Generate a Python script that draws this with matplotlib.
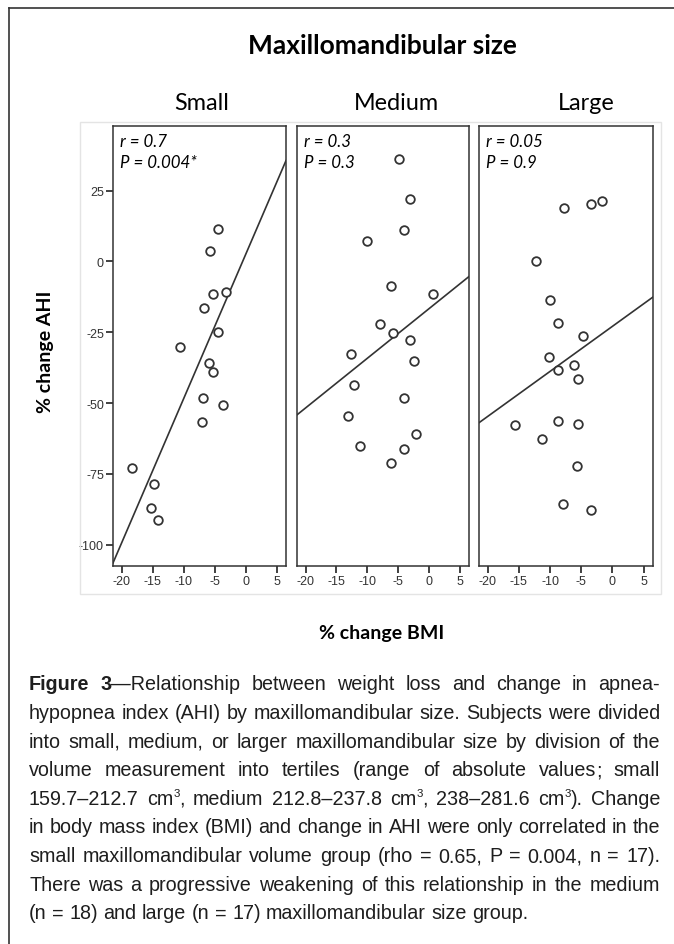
import re
import matplotlib
matplotlib.use("Agg")
import matplotlib.pyplot as plt
from matplotlib.patches import Rectangle
from matplotlib.lines import Line2D

plt.rcParams['axes.unicode_minus'] = False

W, H, DPI = 674, 945, 100

# ---------------- data ----------------
groups = ["Small", "Medium", "Large"]

small_bmi = [-4.4, -5.8, -5.3, -3.1, -6.7, -4.4, -10.6, -5.9, -5.2, -6.9, -3.6, -7.1,
             -18.4, -14.8, -15.3, -14.1]
small_ahi = [11.4, 3.8, -11.5, -10.9, -16.5, -24.8, -30.1, -36.0, -39.1, -48.2, -50.5, -56.6,
             -73.0, -78.7, -86.9, -91.1]

medium_bmi = [-4.9, -3.0, -4.1, -10.0, -6.2, 0.7, -7.9, -5.8, -3.1, -12.6, -2.5, -12.2,
              -4.1, -13.1, -2.1, -11.1, -4.1, -6.1]
medium_ahi = [36.2, 21.9, 11.2, 7.1, -8.8, -11.5, -22.2, -25.4, -27.6, -32.5, -35.1, -43.5,
              -48.1, -54.6, -60.8, -65.1, -66.3, -71.2]

large_bmi = [-7.7, -3.5, -1.7, -12.3, -10.0, -8.7, -4.8, -10.2, -6.1, -8.7, -5.6, -15.7,
             -8.7, -5.6, -11.3, -5.7, -8.0, -3.4]
large_ahi = [18.9, 20.1, 21.4, 0.1, -13.5, -21.8, -26.2, -33.6, -36.6, -38.4, -41.4, -57.7,
             -56.3, -57.3, -62.6, -72.1, -85.5, -87.9]

fit_slope = [5.09, 1.75, 1.59]
fit_intercept = [2.5, -16.7, -22.9]

r_labels = ["r = 0.7", "r = 0.3", "r = 0.05"]
p_labels = ["P = 0.004*", "P = 0.3", "P = 0.9"]

x_ticks = [-20, -15, -10, -5, 0, 5]
y_ticks = [25, 0, -25, -50, -75, -100]

title = "Maxillomandibular size"
x_label = "% change BMI"
y_label = "% change AHI"

# **...** = bold, ^x = superscript character
caption_lines = [
    "**Figure** **3**—Relationship between weight loss and change in apnea-",
    "hypopnea index (AHI) by maxillomandibular size. Subjects were divided",
    "into small, medium, or larger maxillomandibular size by division of the",
    "volume measurement into tertiles (range of absolute values; small",
    "159.7–212.7 cm^3, medium 212.8–237.8 cm^3, 238–281.6 cm^3). Change",
    "in body mass index (BMI) and change in AHI were only correlated in the",
    "small maxillomandibular volume group (rho = 0.65, P = 0.004, n = 17).",
    "There was a progressive weakening of this relationship in the medium",
    "(n = 18) and large (n = 17) maxillomandibular size group.",
]

xs = [small_bmi, medium_bmi, large_bmi]
ys = [small_ahi, medium_ahi, large_ahi]

# ---------------- layout ----------------
fig = plt.figure(figsize=(W / DPI, H / DPI), dpi=DPI)
fig.patch.set_facecolor("white")

def fx(px):
    return px / W

def fy(py):
    return 1 - py / H

panel_x = [(113, 286), (297, 469), (479, 653)]
top_px, bot_px = 127, 567
label_x = [202, 396, 586]

DARK = "#333333"
HEAD_FONT = ["Lato", "DejaVu Sans"]
TICK_FONT = ["Liberation Sans", "DejaVu Sans"]

# faint chart frame
fig.add_artist(Rectangle((fx(80), fy(595)), fx(661) - fx(80), fy(123) - fy(595),
                         transform=fig.transFigure, fill=False, ec="#e4e4e4", lw=1.0))
# outer page frame lines (left + top)
fig.add_artist(Line2D([fx(9), fx(9)], [fy(9), 0], transform=fig.transFigure, color=DARK, lw=1.2))
fig.add_artist(Line2D([fx(9), 1], [fy(9), fy(9)], transform=fig.transFigure, color=DARK, lw=1.2))

for i, (l, r) in enumerate(panel_x):
    ax = fig.add_axes([fx(l), fy(bot_px), fx(r) - fx(l), fy(top_px) - fy(bot_px)])
    ax.set_xlim(-21.4, 6.5)
    ax.set_ylim(-107.5, 47.8)
    ax.plot(xs[i], ys[i], linestyle="none", marker="o", ms=6.2, mfc="white",
            mec=DARK, mew=1.3, zorder=3)
    ax.axline((0, fit_intercept[i]), slope=fit_slope[i], color=DARK, lw=1.2, zorder=2)
    for s in ax.spines.values():
        s.set_color(DARK)
        s.set_linewidth(1.1)
    ax.set_xticks(x_ticks)
    ax.set_xticklabels([str(t) for t in x_ticks], fontfamily=TICK_FONT, fontsize=9, color=DARK)
    ax.tick_params(axis="x", direction="out", length=5, width=1.3, color=DARK, pad=1.5)
    ax.set_yticks(y_ticks)
    if i == 0:
        ax.set_yticklabels([str(t) for t in y_ticks], fontfamily=TICK_FONT, fontsize=9, color=DARK)
        ax.tick_params(axis="y", direction="out", length=5, width=1.3, color=DARK, pad=1.5)
    else:
        ax.tick_params(axis="y", left=False, labelleft=False)
    ax.annotate(r_labels[i], xy=(0, 1), xycoords="axes fraction", xytext=(7, -14.7),
                textcoords="offset pixels", ha="left", va="center", fontsize=12.2,
                style="italic", family=HEAD_FONT, color="black")
    ax.annotate(p_labels[i], xy=(0, 1), xycoords="axes fraction", xytext=(7, -36),
                textcoords="offset pixels", ha="left", va="center", fontsize=12.2,
                style="italic", family=HEAD_FONT, color="black")
    fig.text(fx(label_x[i]), fy(103), groups[i], ha="center", va="center",
             fontsize=16.8, family=HEAD_FONT, color="black")

fig.text(fx(382), fy(46), title, ha="center", va="center", fontsize=19,
         weight="bold", family=HEAD_FONT, color="black")
fig.text(fx(382), fy(634), x_label, ha="center", va="center", fontsize=14,
         weight="bold", family=HEAD_FONT, color="black")
fig.text(fx(46), fy(352), y_label, ha="center", va="center", rotation=90, fontsize=14,
         weight="bold", family=HEAD_FONT, color="black")

# ---------------- justified caption ----------------
CAP_FS = 14.2
CAP_FAM = ["Liberation Sans Narrow", "Liberation Sans", "DejaVu Sans"]
CAP_COLOR = "#1e1e1e"
left_px, right_px = 29, 660
base0, line_gap = 690.5, 28.6

fig.canvas.draw()
renderer = fig.canvas.get_renderer()

def parse_word(w):
    runs = []
    for tok in re.split(r"(\*\*.*?\*\*|\^.|;)", w):
        if not tok:
            continue
        if tok.startswith("**"):
            runs.append((tok[2:-2], "bold", False))
        elif tok.startswith("^"):
            runs.append((tok[1:], "normal", True))
        else:
            runs.append((tok, "normal", False))
    return runs

def text_width(s, weight, sup=False):
    fs = CAP_FS * (0.58 if sup else 1.0)
    t = fig.text(0, 0, s, fontsize=fs, family=CAP_FAM, weight=weight)
    w = t.get_window_extent(renderer).width
    t.remove()
    return w

space_w = text_width("a b", "normal") - text_width("ab", "normal")

for li, line in enumerate(caption_lines):
    words = [parse_word(w) for w in line.split(" ")]
    widths = [[text_width(s, wt, sp) for s, wt, sp in runs] for runs in words]
    totals = [sum(ws) for ws in widths]
    last = li == len(caption_lines) - 1
    if last or len(words) < 2:
        gap = space_w
    else:
        gap = (right_px - left_px - sum(totals)) / (len(words) - 1)
    x = left_px
    yb = base0 + li * line_gap
    for runs, ws, tot in zip(words, widths, totals):
        xr = x
        for (s, wt, sp), wdt in zip(runs, ws):
            fs = CAP_FS * (0.58 if sp else 1.0)
            yy = yb - (8 if sp else 0)
            fig.text(fx(xr), fy(yy), s, fontsize=fs, family=CAP_FAM, weight=wt,
                     va="baseline", ha="left", color=CAP_COLOR)
            xr += wdt
        x += tot + gap

fig.savefig("out.png", dpi=DPI, facecolor="white")
